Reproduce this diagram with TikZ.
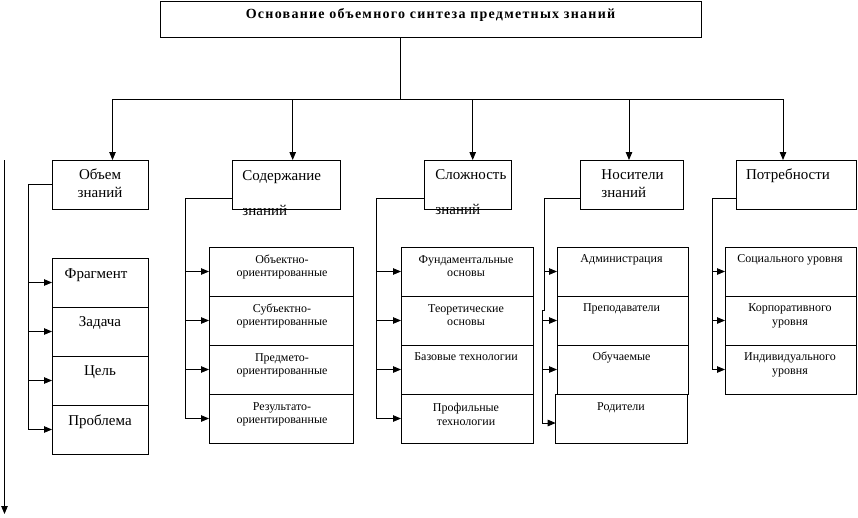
\documentclass[tikz,border=0pt]{standalone}
\usepackage{fontspec}
\setmainfont{Liberation Serif}
\usetikzlibrary{arrows.meta}
\newcommand\ttlfont{\fontsize{14}{16}\selectfont\bfseries\addfontfeature{LetterSpace=9}}
\newcommand\hdfont{\fontsize{15}{18}\selectfont}
\newcommand\subfont{\fontsize{12}{13.4}\selectfont}
\tikzset{
  box/.style={draw, anchor=north west, inner sep=0pt, outer sep=0pt, minimum height=49},
  txt/.style={anchor=base, inner sep=0pt, align=center},
  arr/.style={-{Triangle[length=8pt,width=6.5pt]}},
}
\begin{document}
\begin{tikzpicture}[x=1pt, y=-1pt, line width=0.9pt]
\useasboundingbox (0,0) rectangle (858,517);

\node[box, minimum width=541, minimum height=36] (title) at (160,1) {};
\node[txt, font=\ttlfont] (ttl) at (430.5,18.5) {Основание объемного синтеза предметных знаний};

\coordinate (trunk) at (400,99);
\coordinate (bus1) at (112.5,99);
\coordinate (bus2) at (292.7,99);
\coordinate (bus3) at (472.7,99);
\coordinate (bus4) at (629,99);
\coordinate (bus5) at (783,99);

\node[box, minimum width=96] (hd1) at (52,160) {};
\node[box, minimum width=108] (hd2) at (232,160) {};
\node[box, minimum width=87] (hd3) at (424,160) {};
\node[box, minimum width=103] (hd4) at (580,160) {};
\node[box, minimum width=120] (hd5) at (736,160) {};

\node[txt, font=\hdfont] (hdt1) at (100,197) {Объем\\знаний};
\node[txt, font=\hdfont, align=left, anchor=base west] (hdt2) at (242,215) {Содержание\\[17pt]знаний};
\node[txt, font=\hdfont, align=left, anchor=base west] (hdt3) at (435,214) {Сложность\\[17pt]знаний};
\node[txt, font=\hdfont, align=left, anchor=base west] (hdt4) at (601,197) {Носители\\знаний};
\node[txt, font=\hdfont] (hdt5) at (788,179) {Потребности};

\draw (title.south -| trunk) -- (trunk);
\draw (bus1) -- (bus5);
\draw[arr] (bus1) -- (bus1 |- hd1.north);
\draw[arr] (bus2) -- (bus2 |- hd2.north);
\draw[arr] (bus3) -- (bus3 |- hd3.north);
\draw[arr] (bus4) -- (bus4 |- hd4.north);
\draw[arr] (bus5) -- (bus5 |- hd5.north);

\node[box, minimum width=96] (f1) at (52,258) {};
\node[box, minimum width=96] (f2) at (f1.south west) {};
\node[box, minimum width=96] (f3) at (f2.south west) {};
\node[box, minimum width=96] (f4) at (f3.south west) {};
\node[txt, font=\hdfont] (ft1) at (96,278.3) {Фрагмент};
\node[txt, font=\hdfont] (ft2) at (100,326.7) {Задача};
\node[txt, font=\hdfont] (ft3) at (100,375.7) {Цель};
\node[txt, font=\hdfont] (ft4) at (100,425) {Проблема};

\node[box, minimum width=144] (s1) at (209,247) {};
\node[box, minimum width=144] (s2) at (s1.south west) {};
\node[box, minimum width=144] (s3) at (s2.south west) {};
\node[box, minimum width=144] (s4) at (s3.south west) {};
\node[txt, font=\subfont] (st1) at (282,276.7) {Объектно-\\ориентированные};
\node[txt, font=\subfont] (st2) at (282,325.7) {Субъектно-\\ориентированные};
\node[txt, font=\subfont] (st3) at (282,374.7) {Предмето-\\ориентированные};
\node[txt, font=\subfont] (st4) at (282,423.7) {Результато-\\ориентированные};

\node[box, minimum width=132] (c1) at (401,247) {};
\node[box, minimum width=132] (c2) at (c1.south west) {};
\node[box, minimum width=132] (c3) at (c2.south west) {};
\node[box, minimum width=132] (c4) at (c3.south west) {};
\node[txt, font=\subfont] (ct1) at (466,276.4) {Фундаментальные\\основы};
\node[txt, font=\subfont] (ct2) at (466,325.4) {Теоретические\\основы};
\node[txt, font=\subfont] (ct3) at (466,360.7) {Базовые технологии};
\node[txt, font=\subfont] (ct4) at (466,425.1) {Профильные\\технологии};

\node[box, minimum width=131] (r1) at (557,247) {};
\node[box, minimum width=131] (r2) at (r1.south west) {};
\node[box, minimum width=131] (r3) at (r2.south west) {};
\node[box, minimum width=132] (r4) at (555.7,394) {};
\node[txt, font=\subfont] (rt1) at (621.5,262.3) {Администрация};
\node[txt, font=\subfont] (rt2) at (621.5,311.7) {Преподаватели};
\node[txt, font=\subfont] (rt3) at (621.5,360) {Обучаемые};
\node[txt, font=\subfont] (rt4) at (621,410) {Родители};

\node[box, minimum width=131] (n1) at (725,247) {};
\node[box, minimum width=131] (n2) at (n1.south west) {};
\node[box, minimum width=131] (n3) at (n2.south west) {};
\node[txt, font=\subfont] (nt1) at (790,262.3) {Социального уровня};
\node[txt, font=\subfont] (nt2) at (790,325.1) {Корпоративного\\уровня};
\node[txt, font=\subfont] (nt3) at (790,374.1) {Индивидуального\\уровня};

\coordinate (sp1) at (28.3,0);
\coordinate (sp2) at (185,0);
\coordinate (sp3) at (376,0);
\coordinate (sp4) at (544.3,0);
\coordinate (sp4b) at (542.3,0);
\coordinate (sp5) at (712.7,0);

\draw (hd1.west) -| (sp1 |- f4.west);
\draw[arr] (sp1 |- f1.west) -- (f1.west);
\draw[arr] (sp1 |- f2.west) -- (f2.west);
\draw[arr] (sp1 |- f3.west) -- (f3.west);
\draw[arr] (sp1 |- f4.west) -- (f4.west);

\draw ([yshift=-13.5]hd2.west) -| (sp2 |- s4.west);
\draw[arr] (sp2 |- s1.west) -- (s1.west);
\draw[arr] (sp2 |- s2.west) -- (s2.west);
\draw[arr] (sp2 |- s3.west) -- (s3.west);
\draw[arr] (sp2 |- s4.west) -- (s4.west);

\draw ([yshift=-13.5]hd3.west) -| (sp3 |- c4.west);
\draw[arr] (sp3 |- c1.west) -- (c1.west);
\draw[arr] (sp3 |- c2.west) -- (c2.west);
\draw[arr] (sp3 |- c3.west) -- (c3.west);
\draw[arr] (sp3 |- c4.west) -- (c4.west);

\draw ([yshift=-13.5]hd4.west) -| (sp4 |- 0,310) -- (sp4b |- 0,310) -- (sp4b |- 0,423);
\draw[arr] (sp4 |- r1.west) -- (r1.west);
\draw[arr] (sp4b |- r2.west) -- (r2.west);
\draw[arr] (sp4b |- r3.west) -- (r3.west);
\draw[arr] (sp4b |- 0,423) -- (r4.west |- 0,423);

\draw ([yshift=-13.5]hd5.west) -| (sp5 |- n3.west);
\draw[arr] (sp5 |- n1.west) -- (n1.west);
\draw[arr] (sp5 |- n2.west) -- (n2.west);
\draw[arr] (sp5 |- n3.west) -- (n3.west);

\coordinate (axtop) at (4.5,160);
\coordinate (axbot) at (4.5,514);
\draw[arr] (axtop) -- (axbot);
\end{tikzpicture}
\end{document}
